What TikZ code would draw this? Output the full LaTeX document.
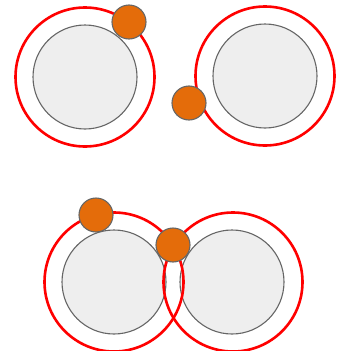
\documentclass[tikz,border=0pt]{standalone}
\usepackage{tikz}
\definecolor{corefill}{HTML}{EEEEEE}
\definecolor{coreline}{HTML}{666666}
\definecolor{dotfill}{HTML}{E46C0A}
\tikzset{
  core/.style={circle, draw=coreline, line width=1.1pt, fill=corefill, inner sep=0pt, minimum size=104pt},
  halo/.style={circle, draw=red, line width=2.6pt, inner sep=0pt, minimum size=139pt},
  dot/.style={circle, draw=coreline, line width=1.1pt, fill=dotfill, inner sep=0pt, minimum size=34pt}
}
\begin{document}
\begin{tikzpicture}[x=1pt, y=-1pt]
  \useasboundingbox (0,0) rectangle (347,351);
  % top pair, apart
  \node[core] (coreA) at (85,77) {};
  \node[core] (coreB) at (265,76) {};
  \node[halo] (haloA) at (85,77) {};
  \node[halo] (haloB) at (265,76) {};
  \node[dot] (dotA) at (129,22) {};
  \node[dot] (dotB) at (189,103) {};
  % bottom pair, overlapping
  \node[core] (coreC) at (114,282) {};
  \node[core] (coreD) at (232,282) {};
  \node[halo] (haloC) at (114,282) {};
  \node[halo] (haloD) at (233,282) {};
  \node[dot] (dotC) at (96,215) {};
  \node[dot] (dotD) at (173,245) {};
\end{tikzpicture}
\end{document}
